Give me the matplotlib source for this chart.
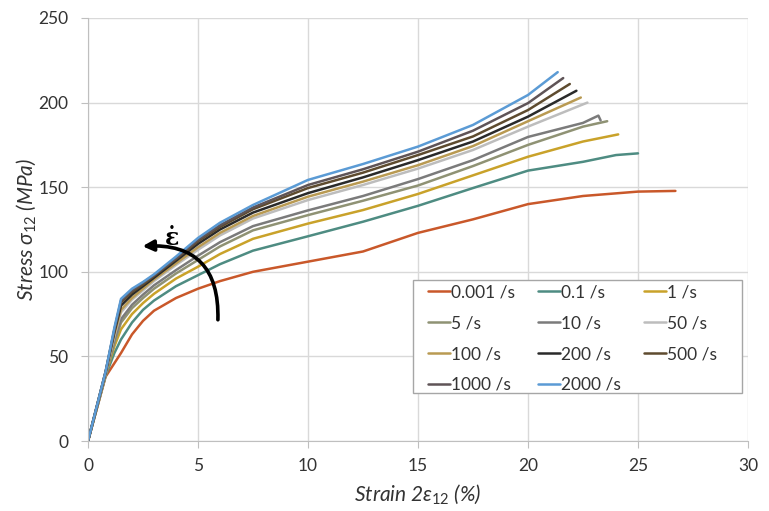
import matplotlib
matplotlib.use("Agg")
import matplotlib.pyplot as plt
from matplotlib.patches import FancyArrowPatch, Rectangle

plt.rcParams['font.family'] = ['Lato', 'DejaVu Sans']
plt.rcParams['mathtext.fontset'] = 'custom'
plt.rcParams['mathtext.it'] = 'Lato:italic'
plt.rcParams['mathtext.rm'] = 'Lato'

labels = ['0.001 /s', '0.1 /s', '1 /s', '5 /s', '10 /s', '50 /s',
          '100 /s', '200 /s', '500 /s', '1000 /s', '2000 /s']
colors = ['#C9582A', '#4E8C82', '#C9A22A', '#8F9274', '#7B7B7B', '#BDBDBD',
          '#B99A52', '#2A2A2A', '#5E4B2F', '#5F5457', '#5B9BD5']

x_common = [0, 0.8, 1.2, 1.5, 2, 2.5, 3, 4, 5, 6, 7.5, 10, 12.5, 15, 17.5, 20]

strain = {
    '0.001 /s': x_common + [22.5, 25.0, 26.7],
    '0.1 /s':   x_common + [22.5, 24.0, 25.0],
    '1 /s':     x_common + [22.5, 24.1],
    '5 /s':     x_common + [22.5, 23.6],
    '10 /s':    x_common + [22.5, 23.2, 23.3],
    '50 /s':    x_common + [22.7],
    '100 /s':   x_common + [22.4],
    '200 /s':   x_common + [22.2],
    '500 /s':   x_common + [21.9],
    '1000 /s':  x_common + [21.6],
    '2000 /s':  x_common + [21.35],
}

stress = {
    '0.001 /s': [0, 38, 46, 52, 63, 71, 77, 84.5, 90, 94.5, 100, 106, 112, 123, 131, 140,
                 144.8, 147.4, 147.8],
    '0.1 /s':   [0, 38.5, 52, 60, 70, 77.5, 83, 91.5, 98, 104.5, 112.5, 121, 129.6, 139, 149.5, 159.8,
                 165, 169, 170],
    '1 /s':     [0, 39, 56, 66, 75, 81.5, 87, 96, 103, 110.5, 119.5, 128.5, 136.5, 146, 157, 168,
                 177, 181.2],
    '5 /s':     [0, 39, 58, 70, 78.5, 84.5, 90, 99, 107, 115, 124.5, 133.5, 142, 151, 162.5, 175,
                 185.8, 189],
    '10 /s':    [0, 39.5, 60, 72, 80.5, 86.5, 92, 101, 109.5, 117.5, 127, 136.3, 144.8, 154.8, 166, 179.7,
                 188, 192.3, 189.5],
    '50 /s':    [0, 40, 62, 76, 83.5, 89, 94.5, 104, 113, 121.5, 131.5, 142.4, 151.3, 161, 172, 185.8,
                 200],
    '100 /s':   [0, 40, 63, 77.5, 84.5, 90, 95.5, 105, 114.5, 123, 133, 144.4, 153.3, 163, 174.3, 189,
                 203],
    '200 /s':   [0, 40.5, 64.5, 80, 86.5, 91.5, 96.5, 106.5, 116.5, 125, 135, 146.5, 155.8, 166, 177, 191.7,
                 207],
    '500 /s':   [0, 41, 65.5, 82, 88, 92.5, 97.5, 107.5, 118, 126.5, 137, 149.5, 158.6, 169, 180, 195.6,
                 211],
    '1000 /s':  [0, 41, 66, 83, 89, 93.5, 98, 108, 119, 127.5, 138, 151.3, 160.6, 171, 183.4, 199.7,
                 214.5],
    '2000 /s':  [0, 41, 67, 84, 90, 94, 98.5, 109, 120, 129, 139.5, 154.3, 163.7, 174, 186.8, 204.5,
                 218],
}

xticks = [0, 5, 10, 15, 20, 25, 30]
yticks = [0, 50, 100, 150, 200, 250]

fig = plt.figure(figsize=(7.69, 5.11), dpi=100)
ax = fig.add_axes([88/769, 70/511, 660/769, 423/511])

lines = {}
for lab, col in zip(labels, colors):
    ln, = ax.plot(strain[lab], stress[lab], color=col, lw=1.8, label=lab,
                  solid_joinstyle='round', solid_capstyle='round')
    lines[lab] = ln

ax.set_xlim(0, 30)
ax.set_ylim(0, 250)
ax.set_xticks(xticks)
ax.set_yticks(yticks)
ax.grid(True, color='#D9D9D9', lw=1.0)
ax.set_axisbelow(True)
for s in ['top', 'right']:
    ax.spines[s].set_visible(False)
for s in ['left', 'bottom']:
    ax.spines[s].set_color('#BFBFBF')
ax.tick_params(axis='both', colors='#BFBFBF', length=5, labelsize=12.5,
               labelcolor='#333333')
ax.tick_params(axis='y', pad=9)
ax.tick_params(axis='x', pad=7)

ax.set_xlabel(r'Strain 2$\mathit{\varepsilon}_{\mathit{12}}$ (%)', fontsize=15,
              style='italic', color='#333333', labelpad=6)
ax.set_ylabel(r'Stress $\mathit{\sigma}_{\mathit{12}}$ (MPa)', fontsize=15,
              style='italic', color='#333333', labelpad=0)

# legend frame (Excel-style, with generous padding)
frame = Rectangle((0.4924, 0.1135), 0.4985, 0.2671, transform=ax.transAxes,
                  facecolor='white', edgecolor='#A6A6A6', lw=1.0, zorder=4)
ax.add_patch(frame)

# row-wise legend order (matplotlib fills columns first)
order = [0, 3, 6, 9, 1, 4, 7, 10, 2, 5, 8]
handles = [lines[labels[i]] for i in order]
leg_labels = [labels[i] for i in order]
leg = ax.legend(handles, leg_labels, ncol=3, loc='upper left',
                bbox_to_anchor=(0.5152, 0.3700), borderaxespad=0, fontsize=12.5,
                frameon=False, handlelength=1.25, handletextpad=0.1,
                columnspacing=1.3, labelspacing=0.85, borderpad=0)
leg.set_zorder(5)
for t in leg.get_texts():
    t.set_color('#333333')

arrow = FancyArrowPatch((5.9, 70), (2.35, 115), connectionstyle='arc3,rad=0.56',
                        arrowstyle='-|>', mutation_scale=16, lw=2.6, color='black',
                        zorder=6)
ax.add_patch(arrow)
ax.text(3.82, 115.8, 'ε', fontsize=17, fontweight='bold', family='DejaVu Serif',
        ha='center', va='baseline', color='black', zorder=6)
ax.text(3.82, 115.8, '˙', fontsize=17, fontweight='bold', family='DejaVu Serif',
        ha='center', va='baseline', color='black', zorder=6)

fig.savefig('out.png', dpi=100)
